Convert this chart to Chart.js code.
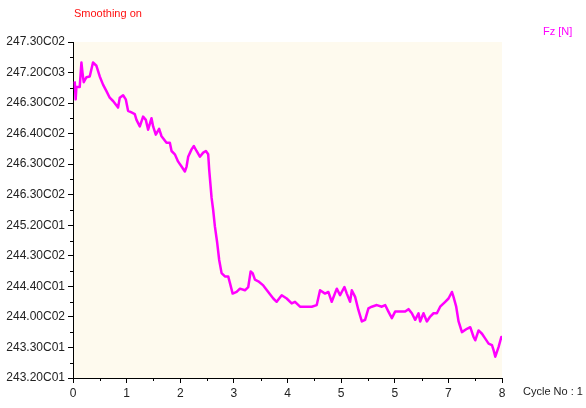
<!DOCTYPE html>
<html>
<head>
<meta charset="utf-8">
<script src="https://cdn.jsdelivr.net/npm/chart.js@4.4.1/dist/chart.umd.min.js"></script>
<style>
  html, body { margin: 0; padding: 0; background: #ffffff; }
  #wrap { width: 586px; height: 408px; position: relative; }
</style>
</head>
<body>
<div id="wrap"><canvas id="c" width="586" height="408"></canvas></div>
<script>
// Cycle position (x) and measured force Fz [N] (y)
const cycleX = [
  0.032, 0.050, 0.063, 0.125, 0.157, 0.176, 0.200, 0.250, 0.312, 0.373,
  0.437, 0.499, 0.560, 0.624, 0.685, 0.747, 0.840, 0.872, 0.934, 0.984,
  1.027, 1.091, 1.152, 1.184, 1.246, 1.307, 1.358, 1.401, 1.464, 1.494,
  1.544, 1.606, 1.651, 1.744, 1.806, 1.838, 1.899, 1.961, 2.024, 2.086,
  2.118, 2.148, 2.211, 2.254, 2.304, 2.366, 2.428, 2.478, 2.521, 2.540,
  2.584, 2.614, 2.646, 2.689, 2.726, 2.771, 2.833, 2.894, 2.926, 2.977,
  3.051, 3.113, 3.206, 3.268, 3.313, 3.350, 3.393, 3.455, 3.548, 3.641,
  3.735, 3.798, 3.892, 3.985, 4.078, 4.140, 4.233, 4.327, 4.452, 4.545,
  4.607, 4.700, 4.762, 4.825, 4.919, 4.980, 5.061, 5.106, 5.167, 5.199,
  5.261, 5.322, 5.386, 5.447, 5.509, 5.572, 5.666, 5.759, 5.821, 5.882,
  5.946, 6.007, 6.100, 6.194, 6.256, 6.319, 6.381, 6.443, 6.474, 6.536,
  6.599, 6.661, 6.723, 6.786, 6.847, 6.941, 7.003, 7.066, 7.096, 7.146,
  7.190, 7.253, 7.346, 7.408, 7.470, 7.501, 7.563, 7.627, 7.688, 7.750,
  7.813, 7.843, 7.875, 7.937, 7.987, 8.000
];
const fzValues = [
  246.82, 246.60, 246.75, 246.75, 247.05, 246.93, 246.81, 246.87, 246.88, 247.05,
  247.01, 246.88, 246.78, 246.70, 246.62, 246.58, 246.50, 246.62, 246.65, 246.60,
  246.46, 246.44, 246.42, 246.35, 246.27, 246.39, 246.35, 246.23, 246.37, 246.27,
  246.17, 246.24, 246.15, 246.07, 246.07, 245.97, 245.93, 245.84, 245.78, 245.72,
  245.78, 245.90, 245.99, 246.03, 245.97, 245.90, 245.95, 245.97, 245.93, 245.74,
  245.40, 245.25, 245.05, 244.85, 244.64, 244.48, 244.44, 244.44, 244.36, 244.23,
  244.25, 244.29, 244.27, 244.31, 244.50, 244.48, 244.40, 244.38, 244.33, 244.25,
  244.17, 244.13, 244.21, 244.17, 244.11, 244.13, 244.07, 244.07, 244.07, 244.09,
  244.27, 244.23, 244.25, 244.13, 244.29, 244.21, 244.31, 244.23, 244.13, 244.27,
  244.19, 244.03, 243.89, 243.91, 244.05, 244.07, 244.09, 244.07, 244.09, 244.01,
  243.93, 244.01, 244.01, 244.01, 244.04, 243.99, 243.91, 243.99, 243.89, 243.99,
  243.89, 243.95, 243.99, 243.99, 244.07, 244.13, 244.17, 244.25, 244.19, 244.07,
  243.89, 243.76, 243.80, 243.82, 243.70, 243.66, 243.78, 243.74, 243.68, 243.62,
  243.60, 243.54, 243.46, 243.58, 243.70, 243.66
];

// Axis labels, listed top to bottom for Fz and left to right for cycle
const yTickLabels = [
  '247.30C02', '247.20C03', '246.30C02', '246.40C02', '246.30C02', '246.30C02',
  '245.20C01', '244.30C02', '244.40C01', '244.00C02', '243.30C01', '243.20C01'
];
const xTickLabels = ['0', '1', '2', '3', '4', '5', '5', '7', '8'];

const Y_MIN = 243.2, Y_MAX = 247.3;
const X_MIN = 0, X_MAX = 8;

const points = cycleX.map((x, i) => ({ x: x, y: fzValues[i] }));

const decor = {
  id: 'decor',
  beforeDraw(chart) {
    const { ctx, chartArea: a } = chart;
    ctx.save();
    ctx.fillStyle = '#FEFAEE';
    ctx.fillRect(a.left, a.top, a.right - a.left, a.bottom - a.top);
    ctx.restore();
  },
  afterDraw(chart) {
    const { ctx, chartArea: a, scales } = chart;
    ctx.save();
    // minor ticks halfway between labelled ticks
    ctx.strokeStyle = '#000';
    ctx.lineWidth = 1;
    const yt = scales.y.ticks;
    for (let i = 0; i + 1 < yt.length; i++) {
      const py = Math.round(scales.y.getPixelForValue((yt[i].value + yt[i + 1].value) / 2)) + 0.5;
      ctx.beginPath(); ctx.moveTo(a.left - 3, py); ctx.lineTo(a.left, py); ctx.stroke();
    }
    const xt = scales.x.ticks;
    for (let i = 0; i + 1 < xt.length; i++) {
      const px = Math.round(scales.x.getPixelForValue((xt[i].value + xt[i + 1].value) / 2)) + 0.5;
      ctx.beginPath(); ctx.moveTo(px, a.bottom); ctx.lineTo(px, a.bottom + 3); ctx.stroke();
    }
    // captions
    ctx.textBaseline = 'middle';
    ctx.font = '11px "Liberation Sans", Arial, sans-serif';
    ctx.fillStyle = '#FF1010';
    ctx.textAlign = 'left';
    ctx.fillText('Smoothing on', 74, 14);
    ctx.fillStyle = '#FF00FF';
    ctx.fillText('Fz [N]', 543, 32);
    ctx.fillStyle = '#222';
    ctx.fillText('Cycle No : 1', 523, 392);
    ctx.restore();
  }
};

new Chart(document.getElementById('c'), {
  type: 'line',
  data: {
    datasets: [{
      data: points,
      borderColor: '#FF00FF',
      borderWidth: 2.5,
      borderJoinStyle: 'round',
      pointRadius: 0,
      tension: 0,
      fill: false
    }]
  },
  options: {
    responsive: false,
    animation: false,
    layout: { padding: { left: 0, right: 84, top: 42, bottom: 0 } },
    plugins: { legend: { display: false }, tooltip: { enabled: false }, title: { display: false } },
    scales: {
      x: {
        type: 'linear',
        min: X_MIN, max: X_MAX,
        afterFit(scale) { scale.height = 30; },
        afterBuildTicks(scale) {
          scale.ticks = xTickLabels.map((_, i) => ({ value: X_MIN + i * (X_MAX - X_MIN) / (xTickLabels.length - 1) }));
        },
        border: { display: true, color: '#000', width: 1 },
        grid: { drawOnChartArea: false, drawTicks: true, tickLength: 5, color: '#000' },
        ticks: {
          autoSkip: false, maxRotation: 0, padding: 3,
          color: '#222',
          font: { family: '"Liberation Sans", Arial, sans-serif', size: 12 },
          callback: (v, i) => xTickLabels[i]
        }
      },
      y: {
        type: 'linear',
        min: Y_MIN, max: Y_MAX,
        afterFit(scale) { scale.width = 73; },
        afterBuildTicks(scale) {
          const n = yTickLabels.length;
          scale.ticks = yTickLabels.map((_, i) => ({ value: Y_MIN + i * (Y_MAX - Y_MIN) / (n - 1) }));
        },
        border: { display: true, color: '#000', width: 1 },
        grid: { drawOnChartArea: false, drawTicks: true, tickLength: 5, color: '#000' },
        ticks: {
          autoSkip: false, padding: 3,
          color: '#222',
          font: { family: '"Liberation Sans", Arial, sans-serif', size: 12 },
          callback: (v, i) => yTickLabels[yTickLabels.length - 1 - i]
        }
      }
    }
  },
  plugins: [decor]
});
</script>
</body>
</html>
